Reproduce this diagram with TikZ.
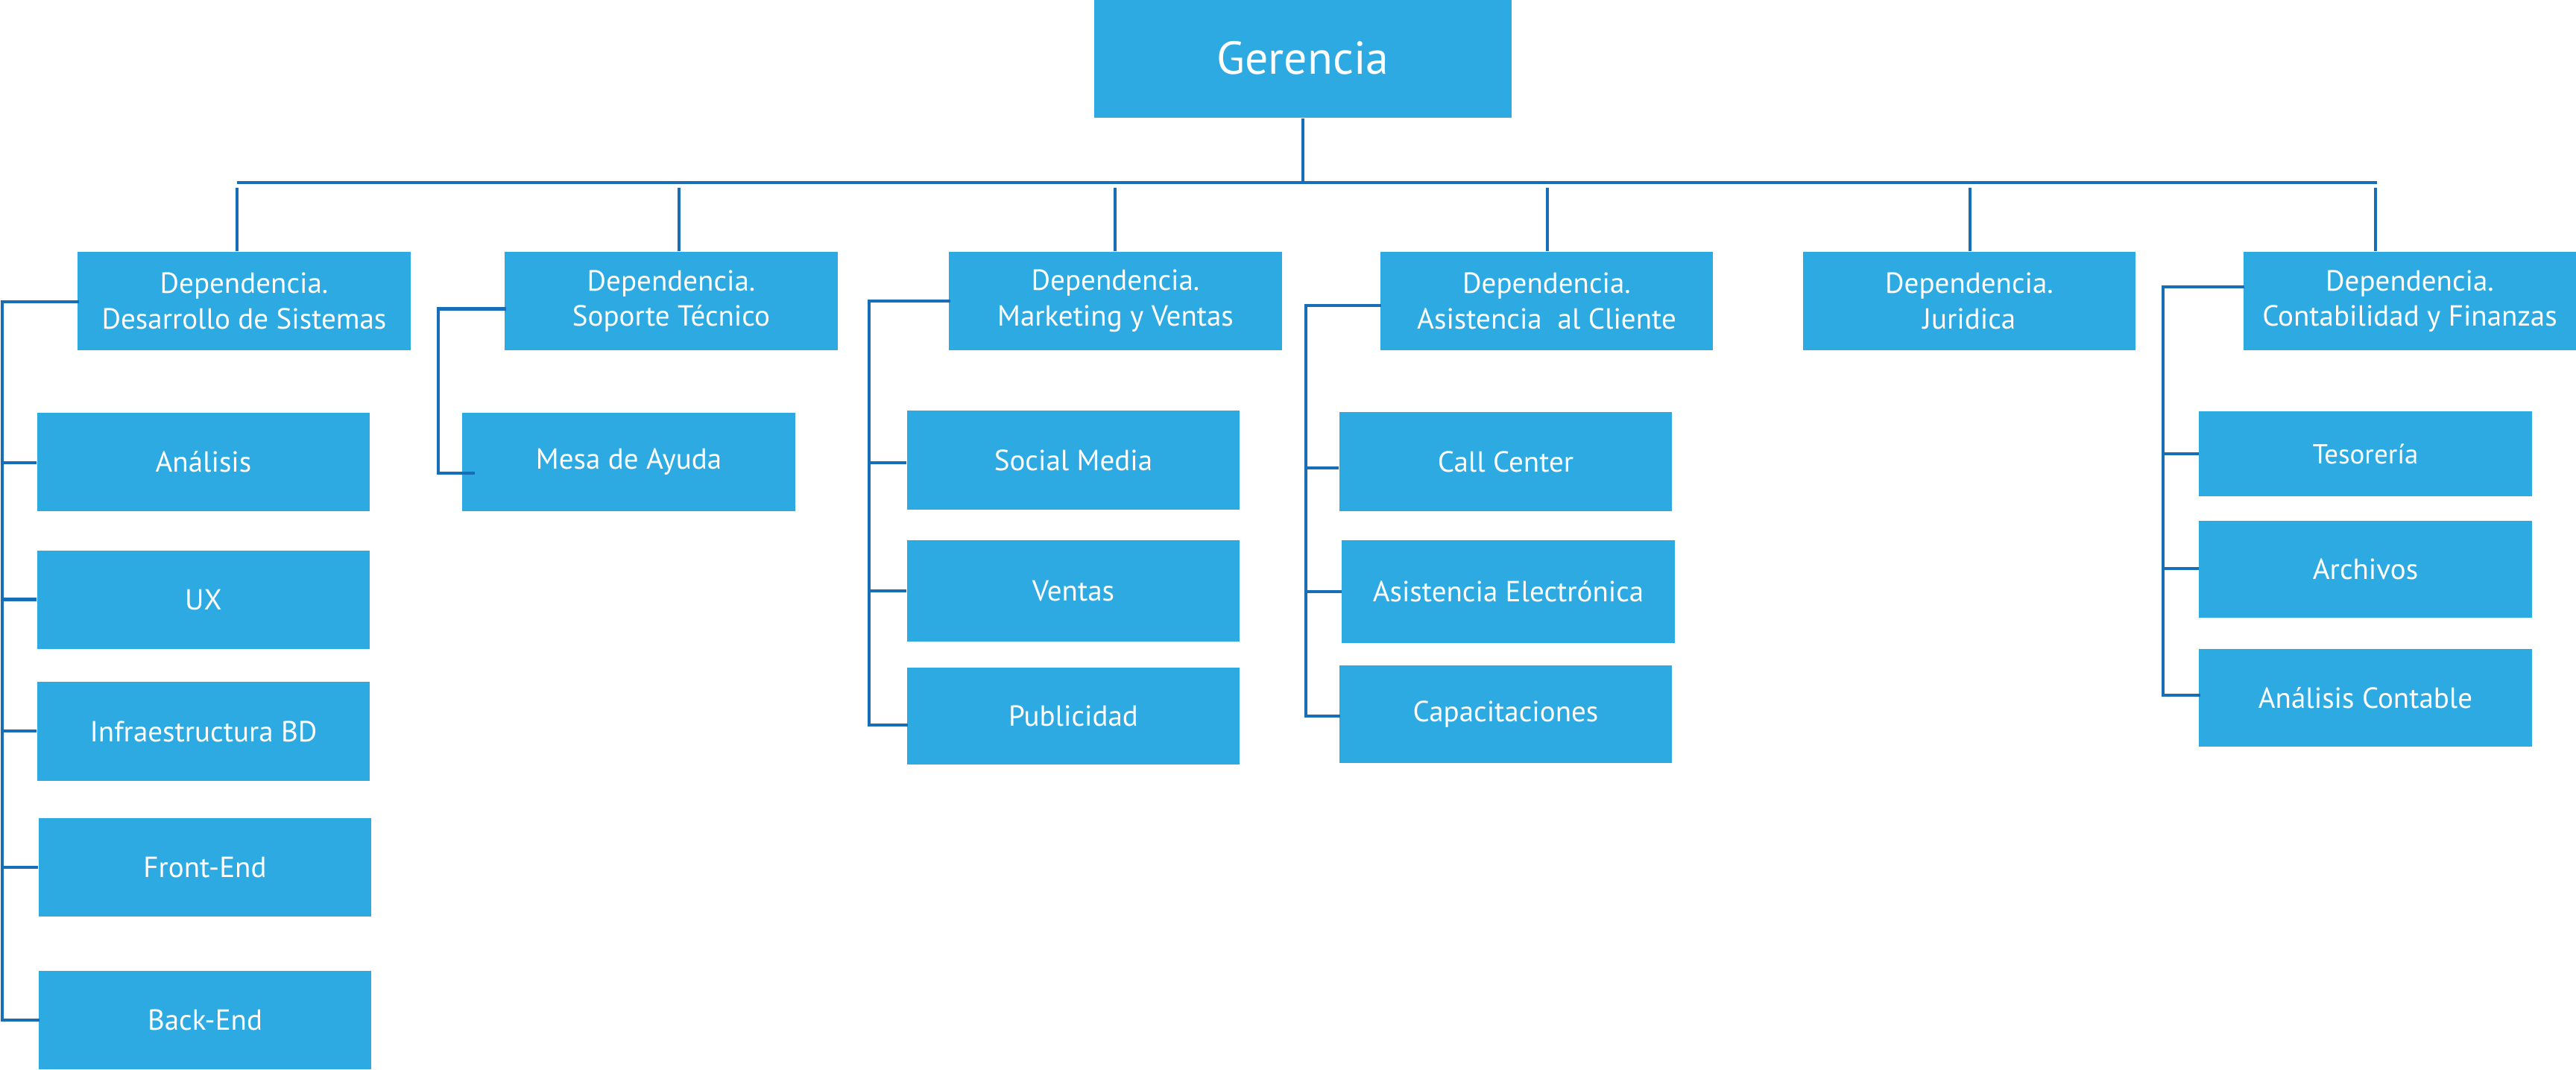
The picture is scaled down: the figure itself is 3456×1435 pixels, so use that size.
\documentclass[tikz,border=0pt]{standalone}
\usepackage{fontspec}
\setmainfont{PT Sans}
\definecolor{boxblue}{RGB}{46,170,226}
\definecolor{lineblue}{RGB}{23,109,182}
\begin{document}
\begin{tikzpicture}[x=0.01cm,y=-0.01cm,
  box/.style={rectangle, fill=boxblue, draw=none, inner sep=0pt, text=white, align=center,
    minimum width=4.46cm, minimum height=1.32cm, font=\fontsize{11.1}{13.5}\selectfont},
  link/.style={draw=lineblue, line width=0.042cm, line cap=rect}]
\useasboundingbox (0,0) rectangle (3456,1435);

% top
\node[box, minimum width=5.60cm, minimum height=1.60cm, font=\fontsize{17.6}{20}\selectfont] (ger) at (1748,78) {Gerencia};

% level 1
\node[box] (d1) at (327.5,404) {Dependencia.\\Desarrollo de Sistemas};
\node[box] (d2) at (900.5,404) {Dependencia.\\Soporte Técnico};
\node[box] (d3) at (1496.5,404) {Dependencia.\\Marketing y Ventas};
\node[box] (d4) at (2075,404) {Dependencia.\\Asistencia~ al Cliente};
\node[box] (d5) at (2642,404) {Dependencia.\\Juridica};
\node[box] (d6) at (3233,404) {Dependencia.\\Contabilidad y Finanzas};

% Desarrollo children
\node[box] (c11) at (273,620) {Análisis};
\node[box] (c12) at (273,805) {UX};
\node[box] (c13) at (273,981.5) {Infraestructura BD};
\node[box] (c14) at (275,1164) {Front-End};
\node[box] (c15) at (275,1369) {Back-End};

% Soporte child
\node[box] (c21) at (843.5,620) {Mesa de Ayuda};

% Marketing children
\node[box] (c31) at (1440,617.5) {Social Media};
\node[box, minimum height=1.36cm] (c32) at (1440,793) {Ventas};
\node[box, minimum height=1.30cm] (c33) at (1440,961) {Publicidad};

% Asistencia children
\node[box] (c41) at (2020,619.5) {Call Center};
\node[box, minimum height=1.38cm] (c42) at (2023.5,794) {Asistencia Electrónica};
\node[box, minimum height=1.31cm] (c43) at (2020,958.5) {Capacitaciones};

% Contabilidad children
\node[box, minimum height=1.14cm, font=\fontsize{10.5}{13}\selectfont] (c61) at (3173.5,609) {Tesorería};
\node[box, minimum height=1.30cm] (c62) at (3173.5,764) {Archivos};
\node[box, minimum height=1.31cm] (c63) at (3173.5,936.5) {Análisis Contable};

% bus
\coordinate (bl) at (318,245);
\coordinate (br) at (3189,245);
\coordinate (bg) at (1748,245);
\draw[link, line cap=butt] (bl) -- (br);
\draw[link, line cap=butt] (ger.south) -- (bg);

% drops
\foreach \n/\x in {1/318,2/911,3/1496,4/2076,5/2643,6/3187}{
  \coordinate (t\n) at (\x,252);
  \draw[link, line cap=butt] (t\n) -- (t\n |- d\n.north);
}

% Desarrollo bracket
\coordinate (a0) at (3,405);
\coordinate (a1) at (3,621);
\coordinate (a2) at (3,804.5);
\coordinate (a3) at (3,981);
\coordinate (a4) at (3,1164);
\coordinate (a5) at (3,1369);
\draw[link] (d1.west |- a0) -- (a0) -- (a5) -- (a5 -| c15.west);
\draw[link, line cap=butt] (a1) -- (a1 -| c11.west);
\draw[link, line cap=butt] (a2) -- (a2 -| c12.west);
\draw[link, line cap=butt] (a3) -- (a3 -| c13.west);
\draw[link, line cap=butt] (a4) -- (a4 -| c14.west);

% Soporte bracket
\coordinate (s0) at (588,414.5);
\coordinate (s1) at (588,635);
\coordinate (s1e) at (635,635);
\draw[link] (d2.west |- s0) -- (s0) -- (s1) -- (s1e);

% Marketing bracket
\coordinate (m0) at (1166,404);
\coordinate (m1) at (1166,621);
\coordinate (m2) at (1166,793);
\coordinate (m3) at (1166,973);
\draw[link] (d3.west |- m0) -- (m0) -- (m3) -- (m3 -| c33.west);
\draw[link, line cap=butt] (m1) -- (m1 -| c31.west);
\draw[link, line cap=butt] (m2) -- (m2 -| c32.west);

% Asistencia bracket
\coordinate (k0) at (1752,410);
\coordinate (k1) at (1752,628);
\coordinate (k2) at (1752,794);
\coordinate (k3) at (1752,961);
\draw[link] (d4.west |- k0) -- (k0) -- (k3) -- (k3 -| c43.west);
\draw[link, line cap=butt] (k1) -- (k1 -| c41.west);
\draw[link, line cap=butt] (k2) -- (k2 -| c42.west);

% Contabilidad bracket
\coordinate (f0) at (2902,385);
\coordinate (f1) at (2902,609);
\coordinate (f2) at (2902,763);
\coordinate (f3) at (2902,933);
\draw[link] (d6.west |- f0) -- (f0) -- (f3) -- (f3 -| c63.west);
\draw[link, line cap=butt] (f1) -- (f1 -| c61.west);
\draw[link, line cap=butt] (f2) -- (f2 -| c62.west);
\end{tikzpicture}
\end{document}
